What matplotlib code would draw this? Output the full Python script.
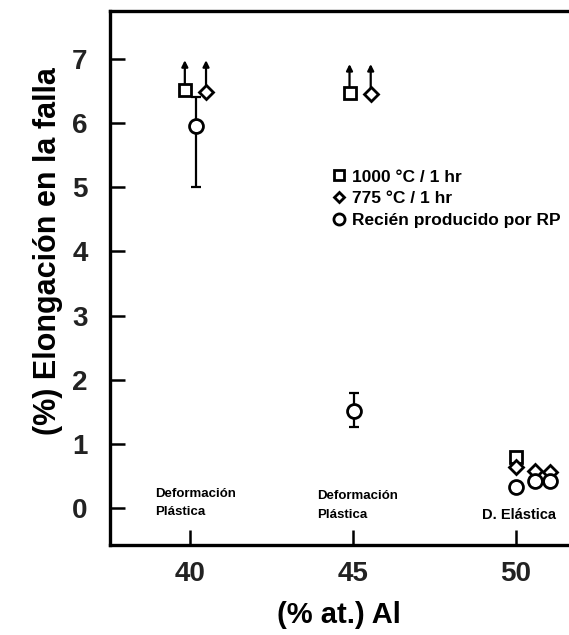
import matplotlib.pyplot as plt

plt.rcParams['font.family'] = ['Liberation Sans', 'DejaVu Sans']
plt.rcParams['font.weight'] = 'bold'

# data
x_1000 = [39.85, 44.9, 50.0]
y_1000 = [6.52, 6.47, 0.80]
x_775 = [40.5, 45.55, 50.0, 50.6, 51.05]
y_775 = [6.49, 6.45, 0.65, 0.58, 0.57]
x_rp = [40.2, 45.05, 50.0, 50.6, 51.05]
y_rp = [5.95, 1.52, 0.33, 0.42, 0.42]
# error bars on the as-produced samples (40 and 45 %)
err_x = [40.2, 45.05]
err_y = [5.95, 1.52]
err_low = [0.95, 0.26]
err_high = [0.45, 0.28]
# points with elongation beyond the value shown (arrow up)
arrow_x = [39.85, 40.5, 44.9, 45.55]
arrow_y = [6.52, 6.49, 6.47, 6.45]
arrow_top = [6.98, 6.98, 6.92, 6.92]

labels = ['1000 °C / 1 hr', '775 °C / 1 hr', 'Recién producido por RP']
xticks = [40, 45, 50]
yticks = [0, 1, 2, 3, 4, 5, 6, 7]

fig = plt.figure(figsize=(5.69, 6.35), dpi=100)
ax = fig.add_axes([0.193, 0.142, 0.807, 0.841])

ax.errorbar(err_x, err_y, yerr=[err_low, err_high], fmt='none',
            ecolor='black', elinewidth=1.6, capsize=3.6, capthick=1.6, zorder=2)

for x, y0, y1 in zip(arrow_x, arrow_y, arrow_top):
    ax.annotate('', xy=(x, y1), xytext=(x, y0 + 0.08),
                arrowprops=dict(arrowstyle='-|>', color='black', lw=1.6,
                                mutation_scale=9, shrinkA=0, shrinkB=0))

ax.plot(x_1000, y_1000, 's', ms=9, mfc='white', mec='black', mew=2,
        linestyle='none', label=labels[0], zorder=3)
ax.plot(x_775, y_775, 'D', ms=7, mfc='white', mec='black', mew=2,
        linestyle='none', label=labels[1], zorder=3)
ax.plot(x_rp, y_rp, 'o', ms=10, mfc='white', mec='black', mew=2,
        linestyle='none', label=labels[2], zorder=3)

note = dict(fontsize=9.5, fontweight='bold', va='top', ha='left', linespacing=1.75)
ax.text(38.93, 0.32, 'Deformación\nPlástica', **note)
ax.text(43.9, 0.28, 'Deformación\nPlástica', **note)
ax.text(48.95, 0.0, 'D. Elástica', fontsize=10.5, fontweight='bold', va='top', ha='left')

ax.legend(loc='upper left', bbox_to_anchor=(0.468, 0.716), frameon=False,
          fontsize=12.5, handletextpad=0.3, labelspacing=0.38, handlelength=0.9,
          markerscale=0.8, borderaxespad=0)

ax.set_xlim(37.55, 51.63)
ax.set_ylim(-0.57, 7.75)
ax.set_xticks(xticks)
ax.set_yticks(yticks)
ax.tick_params(direction='in', length=11, width=1.8, labelsize=20,
               colors='black', labelcolor='#222222')
ax.tick_params(axis='y', pad=16)
ax.tick_params(axis='x', pad=12)
for s in ['left', 'bottom', 'top']:
    ax.spines[s].set_linewidth(2.4)
ax.spines['right'].set_visible(False)

ax.set_xlabel('(% at.) Al', fontsize=21, fontweight='bold')
ax.set_ylabel('(%) Elongación en la falla', fontsize=22, fontweight='bold')
ax.xaxis.set_label_coords(0.5, -0.105)
ax.yaxis.set_label_coords(-0.103, 0.55)

plt.savefig('out.png', dpi=100)
